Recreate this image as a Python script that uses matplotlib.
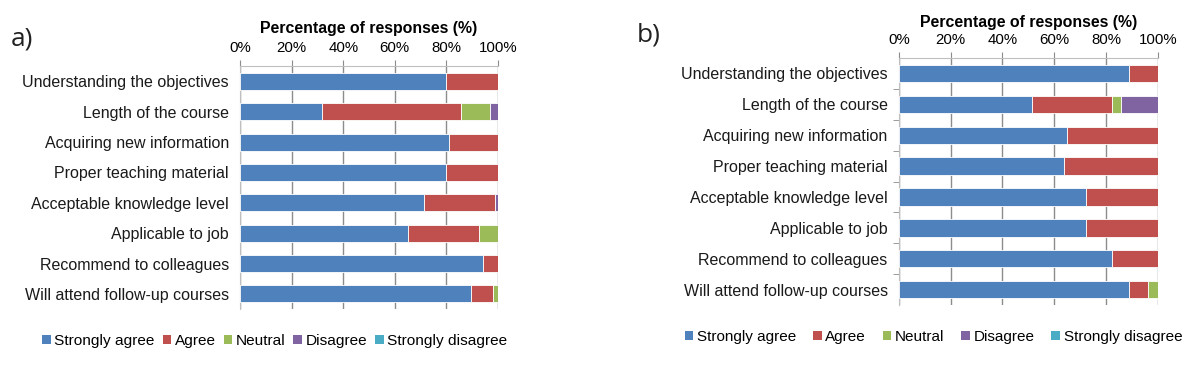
import numpy as np
import matplotlib.pyplot as plt
from matplotlib.patches import Patch

categories = ['Understanding the objectives', 'Length of the course', 'Acquiring new information',
              'Proper teaching material', 'Acceptable knowledge level', 'Applicable to job',
              'Recommend to colleagues', 'Will attend follow-up courses']
responses = ['Strongly agree', 'Agree', 'Neutral', 'Disagree', 'Strongly disagree']
colors = ['#4F81BD', '#C0504D', '#9BBB59', '#8064A2', '#4BACC6']

# panel a, percentages per response
a_strongly_agree = [80.0, 31.8, 81.0, 80.0, 71.2, 65.0, 94.0, 89.7]
a_agree = [20.0, 53.7, 19.0, 20.0, 27.5, 27.7, 6.0, 8.5]
a_neutral = [0, 11.4, 0, 0, 0, 7.3, 0, 1.8]
a_disagree = [0, 3.1, 0, 0, 1.3, 0, 0, 0]
a_strongly_disagree = [0, 0, 0, 0, 0, 0, 0, 0]

# panel b
b_strongly_agree = [88.9, 51.5, 64.9, 63.6, 72.1, 72.1, 82.2, 88.9]
b_agree = [11.1, 30.6, 35.1, 36.4, 27.9, 27.9, 17.8, 7.2]
b_neutral = [0, 3.6, 0, 0, 0, 0, 0, 3.9]
b_disagree = [0, 14.3, 0, 0, 0, 0, 0, 0]
b_strongly_disagree = [0, 0, 0, 0, 0, 0, 0, 0]

FONT = 'Liberation Sans'

fig = plt.figure(figsize=(12, 3.65), dpi=100)
ax_a = fig.add_axes([0.2, 0.153, 0.215, 0.666])
ax_b = fig.add_axes([0.749, 0.164, 0.216, 0.677])


def draw(ax, series, tpad):
    y = np.arange(len(categories))
    left = np.zeros(len(categories))
    for vals, c in zip(series, colors):
        vals = np.array(vals)
        ax.barh(y, vals, left=left, height=0.56, color=c, edgecolor='white', linewidth=0.6, zorder=3)
        left += vals
    ax.set_xlim(0, 100)
    ax.set_ylim(len(categories) - 0.5, -0.5)
    ax.set_yticks(y)
    ax.set_yticklabels(categories, family=FONT, fontsize=11.5, color='#1a1a1a')
    ax.set_xticks(np.arange(0, 101, 20))
    ax.set_xticklabels([f'{v}%' for v in range(0, 101, 20)], family=FONT, fontsize=10.8)
    ax.xaxis.tick_top()
    ax.xaxis.set_label_position('top')
    ax.set_xlabel('Percentage of responses (%)', family=FONT, fontweight='bold', fontsize=11.4, labelpad=tpad)
    ax.grid(axis='x', color='#8c8c8c', linewidth=1.0, zorder=0)
    ax.tick_params(axis='x', length=4, color='#8c8c8c', pad=4)
    ax.tick_params(axis='y', length=0, pad=8)
    for s in ax.spines.values():
        s.set_color('#bfbfbf')
    ax.spines['bottom'].set_visible(False)
    ax.spines['right'].set_visible(False)


draw(ax_a, [a_strongly_agree, a_agree, a_neutral, a_disagree, a_strongly_disagree], 6)
draw(ax_b, [b_strongly_agree, b_agree, b_neutral, b_disagree, b_strongly_disagree], 4)

# category separators on panel b's axis
ax_b.set_yticks(np.arange(len(categories) - 1) + 0.5, minor=True)
ax_b.tick_params(axis='y', which='minor', length=4, color='#8c8c8c')

handles = [Patch(facecolor=c, edgecolor='none') for c in colors]
fig.legend(handles, responses, loc='center', bbox_to_anchor=(0.229, 0.066), ncol=5, frameon=False,
           prop={'family': FONT, 'size': 11.1}, handlelength=0.55, handleheight=0.55,
           handletextpad=0.25, columnspacing=0.5)
fig.legend(handles, responses, loc='center', bbox_to_anchor=(0.778, 0.077), ncol=5, frameon=False,
           prop={'family': FONT, 'size': 11.0}, handlelength=0.55, handleheight=0.55,
           handletextpad=0.25, columnspacing=1.1)

fig.text(0.009, 0.875, 'a)', family='Open Sans', fontsize=19, color='#222222')
fig.text(0.531, 0.885, 'b)', family='Open Sans', fontsize=19, color='#222222')

plt.savefig('out.png', dpi=100)
plt.close()
